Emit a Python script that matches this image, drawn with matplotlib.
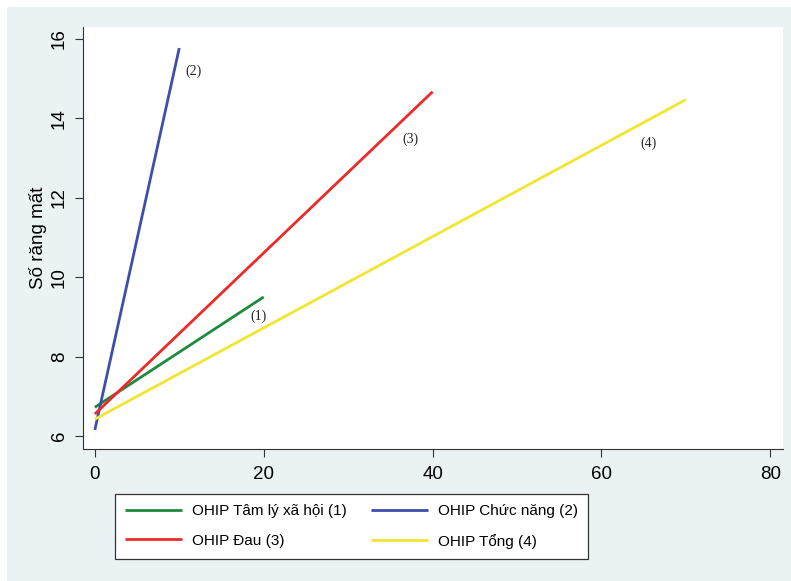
import matplotlib
matplotlib.use("Agg")
import matplotlib.pyplot as plt
from matplotlib.patches import Rectangle

# line endpoints (x = OHIP score, y = teeth lost)
series_names = ["OHIP Tâm lý xã hội (1)", "OHIP Chức năng (2)", "OHIP Đau (3)", "OHIP Tổng (4)"]
x_start = [0, 0, 0, 0]
x_end = [20, 10, 40, 70]
y_start = [6.72, 6.15, 6.55, 6.42]
y_end = [9.5, 15.77, 14.67, 14.47]
colors = ["#1e8a3e", "#3d4faa", "#ec2a2c", "#f0e630"]

# inline labels
label_text = ["(1)", "(2)", "(3)", "(4)"]
label_x = [19.4, 11.7, 37.4, 65.6]
label_y = [9.02, 15.19, 13.46, 13.38]

x_ticks = [0, 20, 40, 60, 80]
y_ticks = [6, 8, 10, 12, 14, 16]

plt.rcParams["font.family"] = ["Liberation Sans", "DejaVu Sans"]

fig = plt.figure(figsize=(7.91, 5.81), dpi=100, facecolor="white")
# light panel behind everything (white margin top/left)
fig.patches.append(
    Rectangle((7 / 791, 0), 1, 1 - 7 / 581, transform=fig.transFigure,
              facecolor="#eaf2f4", edgecolor="none", zorder=-5)
)

ax = fig.add_axes([83 / 791, 1 - 449 / 581, 700 / 791, 422 / 581])
ax.set_facecolor("white")

handles = []
for i in range(len(series_names)):
    (h,) = ax.plot([x_start[i], x_end[i]], [y_start[i], y_end[i]],
                   color=colors[i], lw=2.0, label=series_names[i], solid_capstyle="butt")
    handles.append(h)
    ax.text(label_x[i], label_y[i], label_text[i], family="Liberation Serif",
            fontsize=10, ha="center", va="center", color="#222222")

ax.set_xlim(-1.4, 81.5)
ax.set_ylim(5.67, 16.3)
ax.set_xticks(x_ticks)
ax.set_yticks(y_ticks)
ax.tick_params(axis="both", labelsize=13.5, length=6, width=0.8, color="#333333")
ax.tick_params(axis="x", pad=6)
ax.tick_params(axis="y", pad=5)
for lab in ax.get_yticklabels():
    lab.set_rotation(90)
    lab.set_va("center")
ax.set_ylabel("Số răng mất", fontsize=13.5, labelpad=3)

for side in ["top", "right"]:
    ax.spines[side].set_visible(False)
for side in ["left", "bottom"]:
    ax.spines[side].set_color("#333333")
    ax.spines[side].set_linewidth(0.8)

# legend below plot, two columns, row order (1) (2) / (3) (4)
order = [0, 2, 1, 3]
leg = fig.legend(
    [handles[i] for i in order], [series_names[i] for i in order], ncol=2, loc="center",
    bbox_to_anchor=((115 + 588) / 2 / 791, 1 - (494 + 559) / 2 / 581),
    fontsize=11, frameon=True, fancybox=False, edgecolor="#333333",
    handlelength=3.7, columnspacing=1.6, handletextpad=0.65,
    labelspacing=1.0, borderpad=0.68,
)
leg.get_frame().set_linewidth(0.9)
leg.get_frame().set_facecolor("white")
leg.get_frame().set_alpha(1)

fig.savefig("out.png", dpi=100, facecolor=fig.get_facecolor())
